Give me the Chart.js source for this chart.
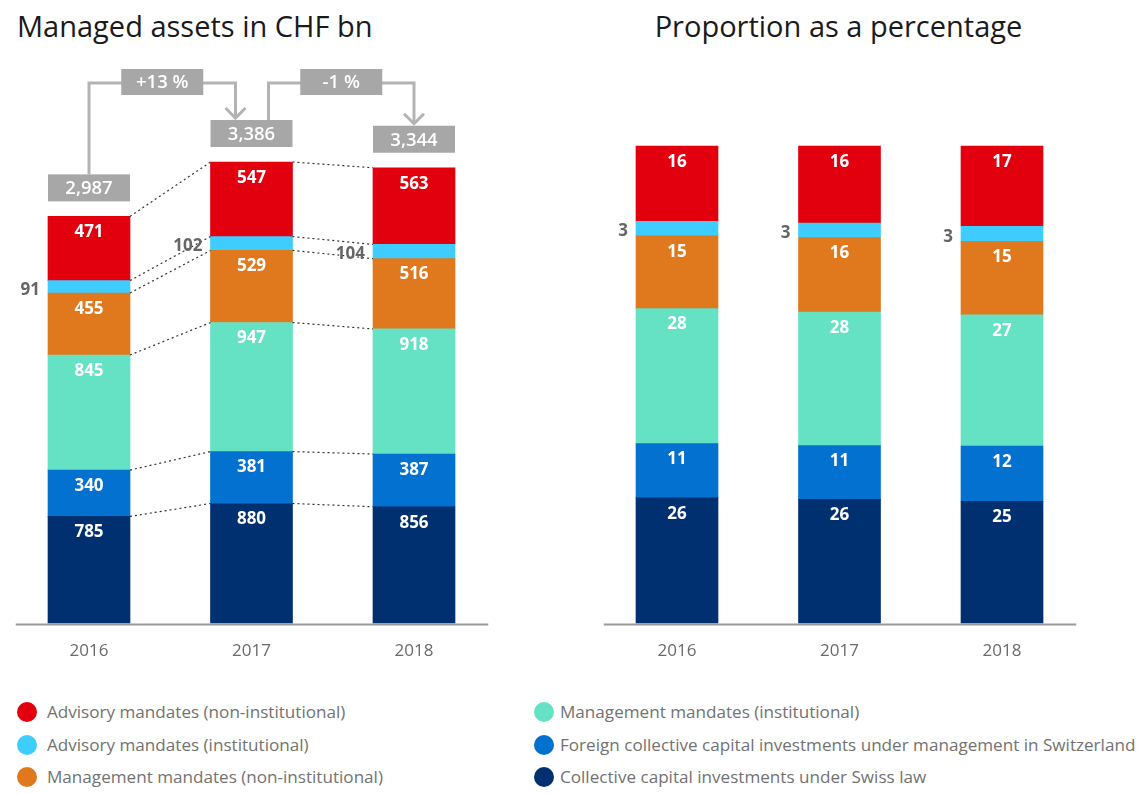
<!DOCTYPE html>
<html>
<head>
<meta charset="utf-8">
<script src="https://cdn.jsdelivr.net/npm/chart.js@4.4.0/dist/chart.umd.min.js"></script>
<style>
  body { margin: 0; background: #fff; font-family: 'Open Sans', sans-serif; }
  #wrap { position: relative; width: 1141px; height: 793px; overflow: hidden; }
  .title { position: absolute; top: 6px; font-size: 29px; line-height: normal; color: #1a1a1a; white-space: nowrap; }
  .box { position: absolute; top: 0; width: 505px; height: 680px; }
  .legend-item { position: absolute; height: 22px; font-size: 17.1px; color: #727272; white-space: nowrap; line-height: 22px; }
  .legend-item span.dot { position: absolute; top: 1px; width: 20px; height: 20px; border-radius: 50%; }
</style>
</head>
<body>
<div id="wrap">
  <div class="title" style="left:17px">Managed assets in CHF bn</div>
  <div class="title" style="left:586px;width:505px;text-align:center">Proportion as a percentage</div>
  <div class="box" style="left:0"><canvas id="assets"></canvas></div>
  <div class="box" style="left:588px"><canvas id="shares"></canvas></div>
  <div id="legend"></div>
</div>
<script>
const years = ['2016', '2017', '2018'];

// stacked bottom to top
const seriesNames = [
  'Collective capital investments under Swiss law',
  'Foreign collective capital investments under management in Switzerland',
  'Management mandates (institutional)',
  'Management mandates (non-institutional)',
  'Advisory mandates (institutional)',
  'Advisory mandates (non-institutional)'
];
const seriesColors = ['#00306f', '#0271cf', '#65e1c3', '#e0781e', '#3fcdff', '#e2000f'];

const swissLaw = [785, 880, 856];
const foreignFunds = [340, 381, 387];
const mgmtInstitutional = [845, 947, 918];
const mgmtNonInstitutional = [455, 529, 516];
const advisoryInstitutional = [91, 102, 104];
const advisoryNonInstitutional = [471, 547, 563];

const totals = [2987, 3386, 3344];
const totalLabels = ['2,987', '3,386', '3,344'];
const growthLabels = ['+13 %', '-1 %'];

// printed percentages
const pctSwissLaw = [26, 26, 25];
const pctForeignFunds = [11, 11, 12];
const pctMgmtInstitutional = [28, 28, 27];
const pctMgmtNonInstitutional = [15, 16, 15];
const pctAdvisoryInstitutional = [3, 3, 3];
const pctAdvisoryNonInstitutional = [16, 16, 17];

const assetSeries = [swissLaw, foreignFunds, mgmtInstitutional, mgmtNonInstitutional, advisoryInstitutional, advisoryNonInstitutional];
const pctSeries = [pctSwissLaw, pctForeignFunds, pctMgmtInstitutional, pctMgmtNonInstitutional, pctAdvisoryInstitutional, pctAdvisoryNonInstitutional];
const thinIndex = 4;

const FONT = "'Open Sans', sans-serif";

// white labels inside the bars, grey label beside the thin segment
const segmentLabels = {
  id: 'segmentLabels',
  afterDatasetsDraw(chart, args, opts) {
    const ctx = chart.ctx;
    ctx.save();
    chart.data.datasets.forEach((ds, di) => {
      const meta = chart.getDatasetMeta(di);
      meta.data.forEach((bar, i) => {
        const text = String(opts.labels[di][i]);
        ctx.font = 'bold 17px ' + FONT;
        ctx.textBaseline = 'middle';
        if (di === thinIndex) {
          ctx.fillStyle = '#666';
          ctx.textAlign = 'right';
          ctx.fillText(text, bar.x - bar.width / 2 - 8, (bar.y + bar.base) / 2 + 3);
        } else {
          ctx.fillStyle = '#fff';
          ctx.textAlign = 'center';
          ctx.fillText(text, bar.x, bar.y + 16);
        }
      });
    });
    ctx.restore();
  }
};

const axisLine = {
  id: 'axisLine',
  afterDatasetsDraw(chart) {
    const ctx = chart.ctx, a = chart.chartArea;
    ctx.save();
    ctx.strokeStyle = '#9a9a9a';
    ctx.lineWidth = 2;
    ctx.beginPath();
    ctx.moveTo(a.left + 8, a.bottom + 1);
    ctx.lineTo(a.right - 7, a.bottom + 1);
    ctx.stroke();
    ctx.restore();
  }
};

const connectors = {
  id: 'connectors',
  afterDatasetsDraw(chart) {
    const ctx = chart.ctx;
    ctx.save();
    ctx.setLineDash([2, 3]);
    ctx.strokeStyle = '#333';
    ctx.lineWidth = 1.2;
    chart.data.datasets.forEach((ds, di) => {
      const bars = chart.getDatasetMeta(di).data;
      for (let i = 0; i < bars.length - 1; i++) {
        const a = bars[i], b = bars[i + 1];
        ctx.beginPath();
        ctx.moveTo(a.x + a.width / 2, a.y);
        ctx.lineTo(b.x - b.width / 2, b.y);
        ctx.stroke();
      }
    });
    ctx.restore();
  }
};

const totalsAndGrowth = {
  id: 'totalsAndGrowth',
  afterDatasetsDraw(chart) {
    const ctx = chart.ctx;
    const y = chart.scales.y;
    const bars = chart.getDatasetMeta(chart.data.datasets.length - 1).data;
    const boxH = 27;
    const boxTops = [];
    ctx.save();
    ctx.font = '600 18.5px ' + FONT;
    ctx.textAlign = 'center';
    ctx.textBaseline = 'middle';
    bars.forEach((bar, i) => {
      const bottom = y.getPixelForValue(totals[i]) - 15;
      const top = bottom - boxH;
      boxTops.push(top);
      ctx.fillStyle = '#a7a7a7';
      ctx.fillRect(bar.x - bar.width / 2, top, bar.width, boxH);
      ctx.fillStyle = '#fff';
      ctx.fillText(totalLabels[i], bar.x, top + boxH / 2 + 1);
    });
    const lineY = Math.min(...boxTops) - 37;
    ctx.strokeStyle = '#b3b3b3';
    ctx.lineWidth = 3;
    for (let i = 0; i < bars.length - 1; i++) {
      const sx = bars[i].x + (i > 0 ? 17 : 0);
      const ex = bars[i + 1].x - (i + 1 < bars.length - 1 ? 16 : 0);
      const tipY = boxTops[i + 1] - 2;
      ctx.beginPath();
      ctx.moveTo(sx, boxTops[i]);
      ctx.lineTo(sx, lineY);
      ctx.lineTo(ex, lineY);
      ctx.lineTo(ex, tipY);
      ctx.stroke();
      ctx.beginPath();
      ctx.moveTo(ex - 10, tipY - 10);
      ctx.lineTo(ex, tipY);
      ctx.lineTo(ex + 10, tipY - 10);
      ctx.stroke();
      const cx = (sx + ex) / 2, w = bars[i].width;
      ctx.fillStyle = '#a7a7a7';
      ctx.fillRect(cx - w / 2, lineY - 14, w, 26);
      ctx.fillStyle = '#fff';
      ctx.fillText(growthLabels[i], cx, lineY);
    }
    ctx.restore();
  }
};

function barOptions(yMax) {
  return {
    responsive: true,
    maintainAspectRatio: false,
    animation: false,
    layout: { padding: { left: 7.75, right: 9.75, top: 0, bottom: 1 } },
    plugins: { legend: { display: false }, tooltip: { enabled: false } },
    scales: {
      x: {
        stacked: true,
        grid: { display: false, drawTicks: false },
        border: { display: false },
        ticks: { color: '#6a6a6a', font: { family: FONT, size: 17 }, padding: 17.6 }
      },
      y: { stacked: true, display: false, min: 0, max: yMax }
    }
  };
}

function makeDatasets(series) {
  return series.map((data, i) => ({
    label: seriesNames[i],
    data,
    backgroundColor: seriesColors[i],
    borderWidth: 0,
    barThickness: 82
  }));
}

const assetOpts = barOptions(4575);
assetOpts.plugins.segmentLabels = { labels: assetSeries };
new Chart(document.getElementById('assets'), {
  type: 'bar',
  data: { labels: years, datasets: makeDatasets(assetSeries) },
  options: assetOpts,
  plugins: [axisLine, connectors, segmentLabels, totalsAndGrowth]
});

// bar heights are each segment's share of the year's total
const shareSeries = assetSeries.map(s => s.map((v, i) => v / totals[i] * 100));
const shareOpts = barOptions(130.6);
shareOpts.plugins.segmentLabels = { labels: pctSeries };
new Chart(document.getElementById('shares'), {
  type: 'bar',
  data: { labels: years, datasets: makeDatasets(shareSeries) },
  options: shareOpts,
  plugins: [axisLine, segmentLabels]
});

// legend: top of stack first, two columns of three
const legend = document.getElementById('legend');
const order = [5, 4, 3, 2, 1, 0];
const colX = [17, 534];
const rowY = [701, 733.5, 766];
order.forEach((si, k) => {
  const col = Math.floor(k / 3), row = k % 3;
  const item = document.createElement('div');
  item.className = 'legend-item';
  item.style.left = colX[col] + 'px';
  item.style.top = rowY[row] + 'px';
  item.style.paddingLeft = (col === 0 ? 30 : 26) + 'px';
  const dot = document.createElement('span');
  dot.className = 'dot';
  dot.style.left = '0px';
  dot.style.background = seriesColors[si];
  item.appendChild(dot);
  item.appendChild(document.createTextNode(seriesNames[si]));
  legend.appendChild(item);
});
</script>
</body>
</html>
